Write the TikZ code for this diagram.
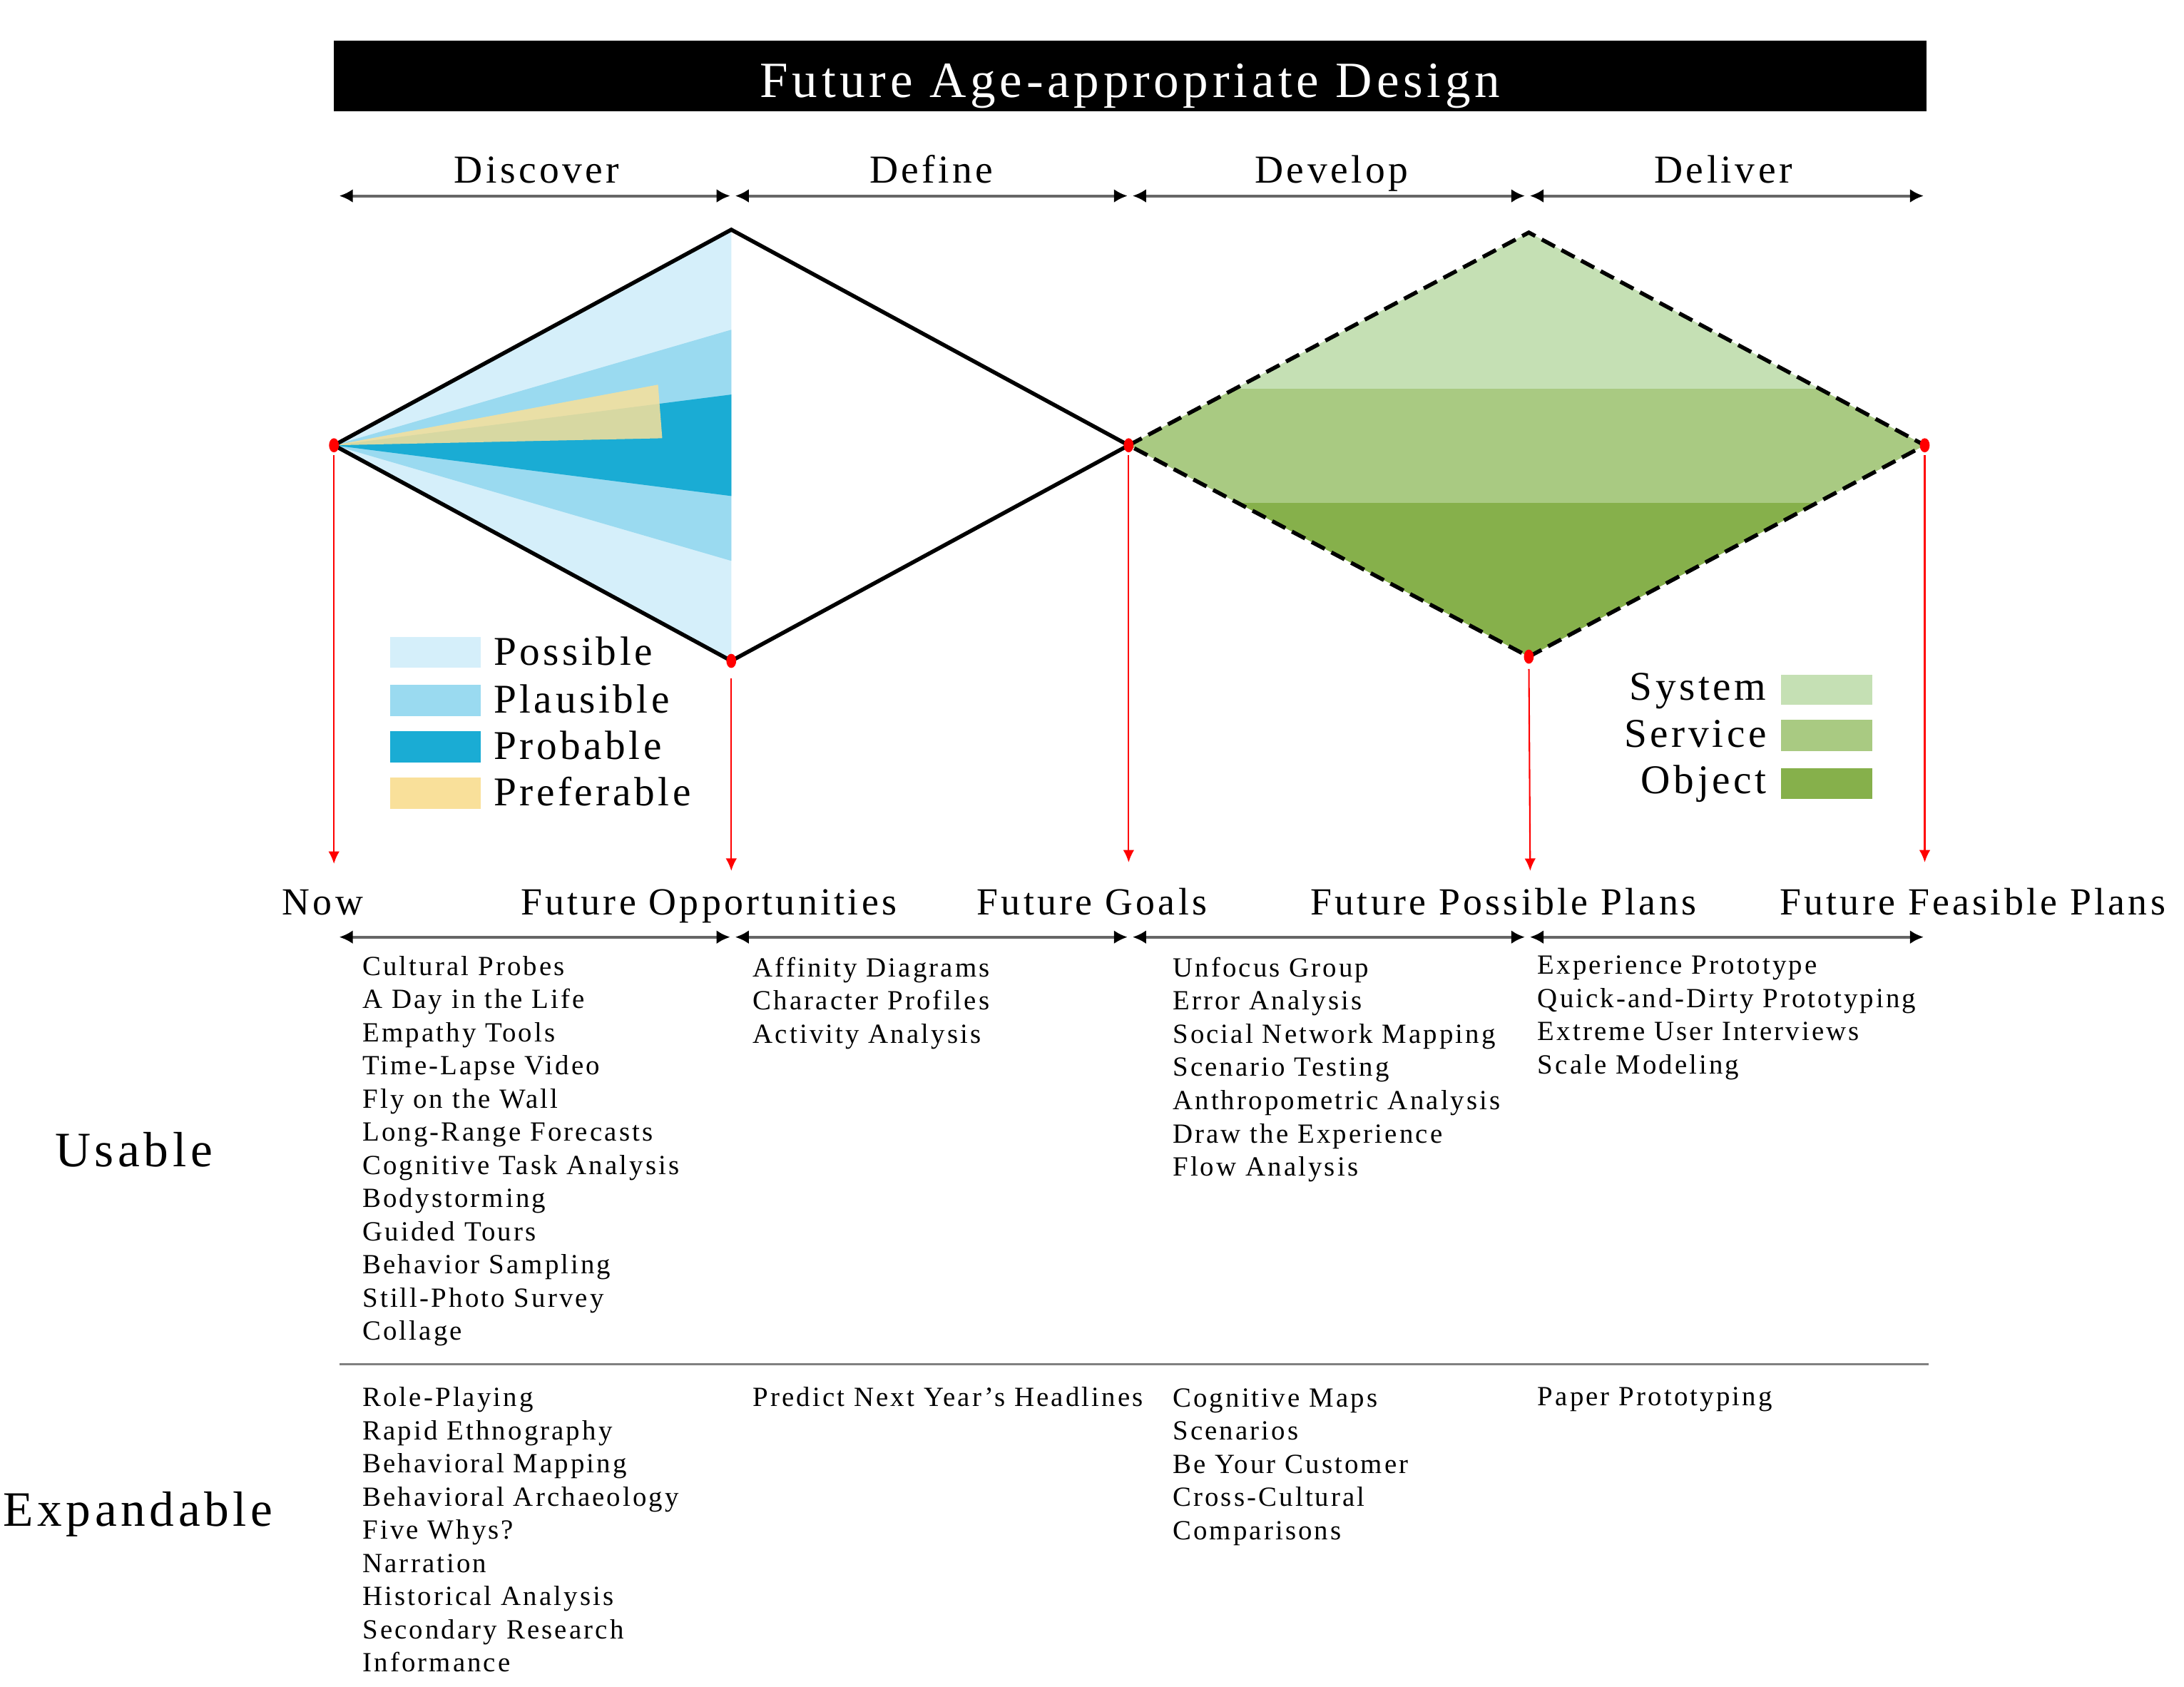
\documentclass[tikz,border=0pt]{standalone}
\usepackage{fontspec}
\setmainfont{Liberation Serif}[LetterSpace=8,Ligatures=NoCommon]
\usetikzlibrary{arrows.meta}
\definecolor{possible}{HTML}{D5EFFA}
\definecolor{plausible}{HTML}{9ADAF0}
\definecolor{probable}{HTML}{1AACD4}
\definecolor{preferable}{HTML}{F9E09A}
\definecolor{systemc}{HTML}{C5E0B4}
\definecolor{servicec}{HTML}{A9CA82}
\definecolor{objectc}{HTML}{86B04B}

\begin{document}
\begin{tikzpicture}[x=0.2mm, y=-0.2mm,
  span/.style={gray!80!black, line width=1.2pt, shorten <=1pt, shorten >=1pt,
    {Latex[color=black,length=5.5pt,width=5.5pt]}-{Latex[color=black,length=5.5pt,width=5.5pt]}},
  redarrow/.style={red, line width=0.6pt, shorten <=4pt, -{Latex[length=5pt,width=4.5pt]}},
  phase/.style={anchor=base, inner sep=0pt, font=\fontsize{16}{19}\selectfont},
  stage/.style={anchor=base, inner sep=0pt, font=\fontsize{15.5}{18}\selectfont},
  legend/.style={inner sep=0pt, font=\fontsize{16.5}{19}\selectfont},
  listtext/.style={anchor=north west, inner sep=0pt, align=left, font=\fontsize{11.2}{13.4}\selectfont},
  side/.style={anchor=base, inner sep=0pt, font=\fontsize{20}{24}\selectfont}]
\useasboundingbox (0,0) rectangle (1550,1197);

% title
\fill[black] (237,29) rectangle (1367,79);
\node[anchor=base, inner sep=0pt, text=white, font=\fontsize{20.5}{24}\selectfont] (title) at (802,69) {Future Age-appropriate Design};

% phases
\coordinate (a0) at (239,139);
\coordinate (a1) at (520,139);
\coordinate (a2) at (802,139);
\coordinate (a3) at (1084,139);
\coordinate (a4) at (1367,139);
\draw[span] (a0) -- (a1);
\draw[span] (a1) -- (a2);
\draw[span] (a2) -- (a3);
\draw[span] (a3) -- (a4);
\node[phase] (discover) at (381,130) {Discover};
\node[phase] (define) at (661,130) {Define};
\node[phase] (develop) at (945,130) {Develop};
\node[phase] (deliver) at (1223,130) {Deliver};

% diamonds
\coordinate (now) at (237,316);
\coordinate (top1) at (519,163);
\coordinate (opp) at (519,469);
\coordinate (goal) at (801,316);
\coordinate (top2) at (1085,165);
\coordinate (plan) at (1085,466);
\coordinate (feas) at (1366,316);

\fill[possible] (now) -- (top1) -- (opp) -- cycle;
\fill[plausible] (now) -- (519,234) -- (519,398) -- cycle;
\fill[probable] (now) -- (519,280) -- (519,352) -- cycle;
\fill[preferable, opacity=0.85] (now) -- (467,273) -- (470,311) -- cycle;

\begin{scope}
 \clip (goal) -- (top2) -- (feas) -- (plan) -- cycle;
 \fill[systemc] (790,160) rectangle (1370,276);
 \fill[servicec] (790,276) rectangle (1370,357);
 \fill[objectc] (790,357) rectangle (1370,470);
\end{scope}

\draw[line width=1.6pt, line join=miter] (now) -- (top1) -- (goal) -- (opp) -- cycle;
\draw[line width=1.6pt, dash pattern=on 6pt off 3pt] (goal) -- (top2) -- (feas) -- (plan) -- cycle;

\fill[red] (now) ellipse [x radius=3.5, y radius=5];
\fill[red] (opp) ellipse [x radius=3.5, y radius=5];
\fill[red] (goal) ellipse [x radius=3.5, y radius=5];
\fill[red] (plan) ellipse [x radius=3.5, y radius=5];
\fill[red] (feas) ellipse [x radius=3.5, y radius=5];

\coordinate (e0) at (237,613);
\coordinate (e1) at (519,618);
\coordinate (e2) at (801,612);
\coordinate (e3) at (1086,618);
\coordinate (e4) at (1366,612);
\draw[redarrow] (now) -- (e0);
\draw[redarrow, shorten <=7pt] (opp) -- (e1);
\draw[redarrow] (goal) -- (e2);
\draw[redarrow, shorten <=5pt] (plan) -- (e3);
\draw[redarrow] (feas) -- (e4);

% legends
\fill[possible] (277,452) rectangle (341,474);
\fill[plausible] (277,486) rectangle (341,508);
\fill[probable] (277,519) rectangle (341,541);
\fill[preferable] (277,552) rectangle (341,574);
\node[legend, anchor=base west] (lpossible) at (350,472) {Possible};
\node[legend, anchor=base west] (lplausible) at (350,506) {Plausible};
\node[legend, anchor=base west] (lprobable) at (350,539) {Probable};
\node[legend, anchor=base west] (lpreferable) at (350,572) {Preferable};

\fill[systemc] (1264,479) rectangle (1329,500);
\fill[servicec] (1264,511) rectangle (1329,533);
\fill[objectc] (1264,545) rectangle (1329,567);
\node[legend, anchor=base east] (lsystem) at (1254,497) {System};
\node[legend, anchor=base east] (lservice) at (1254,530) {Service};
\node[legend, anchor=base east] (lobject) at (1254,563) {Object};

% stages
\node[stage] (snow) at (229,649) {Now};
\node[stage] (sopp) at (503,649) {Future Opportunities};
\node[stage] (sgoal) at (775,649) {Future Goals};
\node[stage] (splan) at (1067,649) {Future Possible Plans};
\node[stage] (sfeas) at (1400,649) {Future Feasible Plans};

\coordinate (b0) at (239,665);
\coordinate (b1) at (520,665);
\coordinate (b2) at (802,665);
\coordinate (b3) at (1084,665);
\coordinate (b4) at (1367,665);
\draw[span] (b0) -- (b1);
\draw[span] (b1) -- (b2);
\draw[span] (b2) -- (b3);
\draw[span] (b3) -- (b4);

% usable methods
\node[side] (usable) at (95,828) {Usable};
\node[listtext] (u1) at (257,678) {Cultural Probes\\A Day in the Life\\Empathy Tools\\Time-Lapse Video\\Fly on the Wall\\Long-Range Forecasts\\Cognitive Task Analysis\\Bodystorming\\Guided Tours\\Behavior Sampling\\Still-Photo Survey\\Collage};
\node[listtext] (u2) at (534,679) {Affinity Diagrams\\Character Profiles\\Activity Analysis};
\node[listtext] (u3) at (832,679) {Unfocus Group\\Error Analysis\\Social Network Mapping\\Scenario Testing\\Anthropometric Analysis\\Draw the Experience\\Flow Analysis};
\node[listtext] (u4) at (1091,678) {Experience Prototype\\Quick-and-Dirty Prototyping\\Extreme User Interviews\\Scale Modeling};

\coordinate (s0) at (241,968);
\coordinate (s1) at (1369,968);
\draw[gray, line width=1pt] (s0) -- (s1);

% expandable methods
\node[side] (expandable) at (98,1083) {Expandable};
\node[listtext] (x1) at (257,984) {Role-Playing\\Rapid Ethnography\\Behavioral Mapping\\Behavioral Archaeology\\Five Whys?\\Narration\\Historical Analysis\\Secondary Research\\Informance};
\node[listtext] (x2) at (534,984) {Predict Next Year's Headlines};
\node[listtext] (x3) at (832,985) {Cognitive Maps\\Scenarios\\Be Your Customer\\Cross-Cultural\\Comparisons};
\node[listtext] (x4) at (1091,984) {Paper Prototyping};
\end{tikzpicture}
\end{document}
